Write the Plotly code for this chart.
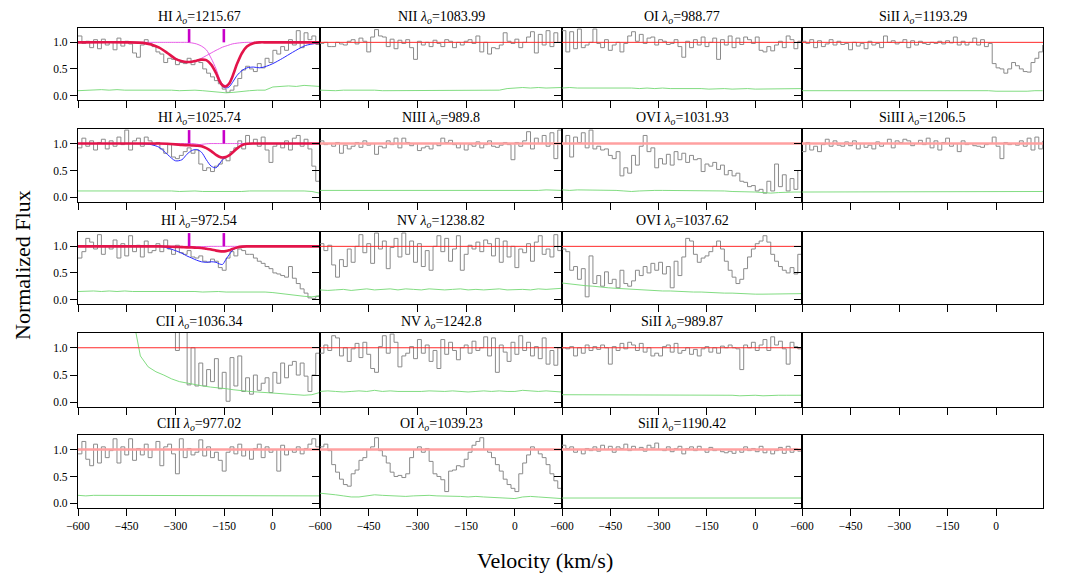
import plotly.graph_objects as go

# ---------------- data ----------------
VEL = list(range(-600, 145, 12))          # flux pixel grid (km/s)
ERR_VEL = list(range(-600, 145, 24))      # error-spectrum grid (km/s)
MODEL_VEL = [-600, -450, -400, -375, -350, -325, -300, -280, -265, -250,
             -235, -220, -205, -190, -175, -165, -155, -145, -135, -125,
             -110, -95, -80, -60, -40, -20, 0, 30, 60, 100, 145]
COMP_VEL = [-258, -151]
CONTINUUM = 1.0
X_TICKS = [-600, -450, -300, -150, 0]
X_TICK_LABELS = ["\u2212600", "\u2212450", "\u2212300", "\u2212150", "0"]
Y_TICKS = [0.0, 0.5, 1.0]
Y_TICK_LABELS = ["0.0", "0.5", "1.0"]

F_HI_1215 = [1.12, 0.98, 1.02, 0.90, 1.05, 0.88, 1.06, 0.95, 1.00,
             0.86, 1.08, 0.93, 1.02, 0.97, 0.80, 0.72, 0.95, 1.05,
             0.98, 0.92, 0.82, 0.78, 0.62, 0.70, 0.68, 0.58, 0.62,
             0.60, 0.70, 0.58, 0.66, 0.62, 0.50, 0.42, 0.35, 0.28,
             0.22, 0.12, 0.06, 0.10, 0.18, 0.32, 0.48, 0.55, 0.50,
             0.45, 0.60, 0.52, 0.70, 0.62, 0.85, 0.78, 0.92, 0.85,
             1.05, 0.95, 1.22, 0.90, 1.18, 1.05, 1.12, 0.96, 1.02]
F_NII_1084 = [0.98, 1.00, 0.92, 0.92, 1.00, 0.97, 0.95, 1.02, 1.05,
              0.97, 1.08, 1.02, 0.82, 1.10, 1.24, 1.12, 1.10, 0.92,
              1.06, 0.88, 1.04, 0.98, 1.05, 0.90, 0.68, 1.02, 0.95,
              1.00, 0.92, 1.04, 0.98, 0.92, 1.05, 1.02, 0.90, 1.00,
              0.95, 1.02, 1.05, 0.98, 1.12, 0.82, 1.00, 0.78, 0.90,
              0.88, 0.95, 1.18, 1.02, 0.98, 1.06, 0.90, 1.00, 1.10,
              1.20, 0.80, 1.15, 0.95, 1.22, 0.92, 1.18, 1.00, 1.05]
F_OI_989 = [1.22, 0.82, 1.20, 0.88, 1.25, 0.90, 0.95, 1.00, 1.25,
            0.98, 0.90, 1.05, 0.85, 0.95, 1.00, 0.82, 0.98, 1.12,
            1.20, 1.02, 1.15, 0.98, 1.08, 1.10, 0.95, 1.05, 1.02,
            0.96, 0.98, 1.05, 0.92, 0.72, 1.02, 0.90, 1.05, 0.95,
            1.10, 0.92, 1.00, 1.08, 0.68, 1.05, 0.95, 1.12, 0.90,
            1.08, 0.96, 1.10, 1.05, 0.98, 1.10, 0.85, 0.82, 0.92,
            0.84, 0.95, 1.02, 0.90, 1.12, 1.05, 0.88, 1.02, 0.96]
F_SiII_1193 = [1.02, 0.98, 1.05, 0.90, 1.03, 0.92, 0.97, 1.05, 0.95,
               1.02, 0.96, 0.98, 0.86, 1.00, 0.93, 0.98, 0.88, 1.02,
               0.95, 0.98, 0.90, 1.12, 1.00, 1.03, 0.97, 1.00, 1.05,
               0.90, 1.03, 0.95, 1.02, 0.98, 0.96, 1.00, 0.98, 1.02,
               0.97, 1.03, 0.99, 1.10, 0.95, 1.02, 0.95, 1.00, 1.08,
               0.95, 1.05, 0.92, 0.98, 0.60, 0.52, 0.50, 0.42, 0.50,
               0.62, 0.56, 0.50, 0.45, 0.44, 0.62, 0.70, 0.82, 0.95]
F_HI_1026 = [0.92, 1.10, 0.95, 1.05, 0.88, 1.02, 1.08, 0.90, 1.05,
             0.95, 1.12, 0.98, 1.25, 0.88, 1.05, 1.10, 0.95, 1.12,
             1.05, 0.98, 1.02, 0.90, 0.82, 0.98, 0.75, 0.72, 0.78,
             0.85, 0.92, 0.82, 0.88, 0.62, 0.50, 0.55, 0.48, 0.58,
             0.62, 0.72, 0.68, 0.85, 0.92, 1.05, 0.90, 1.15, 1.00,
             1.08, 0.95, 1.12, 0.88, 0.65, 0.95, 1.00, 0.92, 1.05,
             0.88, 1.10, 1.15, 0.95, 1.08, 0.90, 0.58, 0.30, 0.25]
F_NIII_990 = [1.05, 0.98, 1.00, 0.95, 1.02, 0.82, 0.97, 0.90, 0.95,
              1.02, 0.93, 1.05, 0.97, 1.00, 0.80, 0.95, 0.92, 1.05,
              0.98, 1.10, 0.92, 1.10, 1.02, 0.96, 1.00, 0.87, 0.92,
              0.95, 0.90, 1.00, 0.96, 1.10, 1.02, 1.06, 0.98, 0.92,
              1.00, 0.88, 0.98, 0.95, 1.03, 0.92, 0.98, 1.05, 0.95,
              0.93, 0.97, 1.02, 0.98, 0.70, 1.02, 0.95, 1.05, 1.22,
              0.90, 1.10, 1.00, 1.15, 0.95, 1.20, 0.72, 1.25, 1.05]
F_OVI_1032 = [1.00, 1.15, 0.75, 1.12, 1.02, 1.20, 0.92, 1.25, 0.90,
              0.95, 0.88, 0.90, 0.78, 0.72, 0.85, 0.40, 0.55, 0.45,
              0.78, 0.60, 0.95, 1.15, 0.85, 0.92, 0.55, 0.72, 0.62,
              0.80, 0.60, 0.85, 0.70, 0.82, 0.65, 0.78, 0.70, 0.72,
              0.48, 0.62, 0.58, 0.65, 0.52, 0.60, 0.42, 0.50, 0.40,
              0.45, 0.30, 0.28, 0.20, 0.22, 0.12, 0.15, 0.08, 0.30,
              0.12, 0.62, 0.20, 0.42, 0.12, 0.35, 0.15, 0.50, 0.20]
F_SiIII_1206 = [0.85, 1.02, 0.88, 0.95, 0.85, 0.98, 1.08, 0.95, 1.05,
                0.97, 0.95, 1.03, 0.96, 1.05, 0.90, 1.00, 0.93, 0.97,
                0.90, 1.03, 0.95, 1.00, 1.08, 0.92, 1.05, 1.02, 1.08,
                1.05, 0.96, 1.00, 1.06, 0.98, 1.10, 0.92, 1.05, 0.88,
                1.02, 1.10, 0.95, 1.00, 0.85, 1.05, 0.98, 1.00, 0.96,
                0.95, 0.93, 0.98, 1.00, 1.12, 0.95, 0.72, 1.02, 0.98,
                1.00, 0.97, 1.05, 0.95, 1.10, 0.88, 1.12, 0.90, 1.05]
F_HI_973 = [0.78, 0.90, 1.15, 1.08, 0.95, 1.22, 0.85, 1.00, 0.95,
            1.12, 0.78, 1.05, 0.82, 1.20, 0.90, 1.02, 0.80, 1.10,
            0.88, 0.92, 1.05, 0.90, 1.12, 0.95, 0.85, 1.02, 0.88,
            0.85, 0.92, 0.80, 0.78, 0.82, 0.72, 0.70, 0.76, 0.72,
            0.60, 0.55, 0.78, 0.90, 0.82, 0.95, 0.92, 0.85, 0.85,
            0.78, 0.72, 0.68, 0.62, 0.58, 0.50, 0.48, 0.45, 0.42,
            0.62, 0.40, 0.30, 0.20, 0.12, 0.03, 0.02, 0.06, 0.10]
F_NV_1239 = [1.05, 0.92, 1.02, 0.65, 0.42, 0.75, 0.62, 0.95, 0.70,
             1.00, 1.22, 0.88, 1.05, 0.68, 1.25, 0.95, 1.10, 0.58,
             0.98, 1.15, 0.80, 1.25, 0.85, 1.10, 0.70, 1.05, 0.62,
             0.92, 0.55, 1.00, 1.20, 0.90, 1.15, 0.72, 0.95, 1.20,
             0.55, 0.85, 1.02, 0.95, 1.08, 0.90, 1.12, 1.05, 0.82,
             1.15, 0.70, 1.10, 0.80, 1.00, 0.60, 0.95, 0.88, 1.05,
             0.72, 1.08, 1.20, 0.85, 0.95, 0.80, 1.22, 0.92, 1.18]
F_OVI_1038 = [0.95, 0.90, 0.55, 0.62, 0.38, 0.58, 0.05, 0.82, 0.30,
              0.45, 0.25, 0.52, 0.30, 0.38, 0.22, 0.55, 0.30, 0.25,
              0.35, 0.55, 0.45, 0.62, 0.50, 0.68, 0.55, 0.70, 0.48,
              0.62, 0.22, 0.72, 0.45, 0.80, 1.15, 1.10, 0.85, 0.70,
              0.78, 0.82, 0.90, 1.00, 1.10, 0.95, 0.72, 0.55, 0.42,
              0.30, 0.38, 0.58, 0.80, 0.95, 1.05, 1.10, 1.20, 1.08,
              0.85, 0.72, 0.62, 0.55, 0.50, 0.60, 0.48, 0.85, 0.98]
F_CII_1036 = [None, None, None, None, None, None, None, None, None,
              None, None, None, None, None, None, None, None, None,
              None, None, None, None, None, None, 1.40, 0.95, 1.35,
              1.30, 0.32, 1.00, 0.30, 0.72, 0.30, 0.60, 0.38, 0.80,
              0.25, 0.55, 0.02, 0.82, 0.30, 0.85, 0.20, 0.45, 0.15,
              0.50, 0.22, 0.35, 0.45, 0.18, 0.55, 0.35, 0.72, 0.45,
              0.68, 0.75, 0.50, 0.72, 0.48, 0.20, 0.50, 0.90, 0.55]
F_NV_1243 = [0.90, 1.05, 0.95, 1.22, 1.18, 0.85, 1.00, 0.75, 0.98,
             1.08, 0.82, 1.10, 0.88, 0.62, 0.55, 1.02, 1.22, 0.90,
             1.25, 1.10, 0.65, 0.85, 0.90, 1.02, 0.80, 1.15, 0.90,
             1.05, 0.75, 0.95, 0.62, 1.15, 0.88, 1.10, 0.95, 0.78,
             1.00, 1.05, 0.90, 1.12, 0.95, 1.00, 1.20, 0.85, 1.18,
             0.55, 1.05, 0.92, 0.75, 1.10, 0.88, 1.22, 0.95, 1.10,
             0.85, 1.02, 0.80, 1.18, 0.70, 0.95, 0.68, 1.00, 0.85]
F_SiII_990 = [1.00, 0.98, 1.02, 0.85, 1.00, 0.90, 1.05, 0.95, 1.02,
              0.97, 1.05, 1.00, 0.70, 1.02, 0.95, 1.08, 0.98, 1.10,
              1.05, 0.95, 1.08, 0.92, 1.00, 0.85, 0.90, 0.85, 1.02,
              1.05, 0.92, 1.08, 0.90, 0.95, 1.00, 0.88, 0.97, 0.85,
              0.98, 1.02, 0.92, 1.00, 0.90, 1.03, 1.00, 1.05, 1.00,
              0.98, 0.60, 1.05, 1.00, 1.10, 0.95, 1.05, 1.15, 0.95,
              1.20, 1.05, 1.12, 0.98, 0.70, 1.10, 1.02, 0.98, 1.00]
F_CIII_977 = [0.92, 1.15, 0.82, 0.70, 1.10, 0.75, 1.05, 0.85, 0.98,
              1.20, 0.75, 1.05, 0.90, 1.20, 0.80, 1.02, 0.90, 1.10,
              0.85, 1.00, 1.15, 0.70, 1.05, 1.10, 0.92, 0.55, 1.20,
              0.85, 1.02, 0.90, 0.95, 1.18, 0.88, 1.05, 0.85, 0.95,
              0.80, 0.60, 0.95, 1.05, 0.92, 1.10, 0.88, 1.00, 0.82,
              1.02, 1.10, 0.85, 1.05, 0.95, 1.00, 0.60, 1.08, 0.90,
              1.00, 0.95, 1.05, 0.92, 1.02, 1.10, 1.20, 1.05, 0.98]
F_OI_1039 = [1.05, 1.10, 0.98, 0.72, 0.58, 0.45, 0.35, 0.32, 0.55,
             0.62, 0.80, 0.85, 1.00, 1.05, 1.22, 0.98, 0.88, 0.75,
             0.58, 0.50, 0.52, 0.48, 0.55, 0.85, 1.00, 1.05, 0.95,
             1.02, 0.78, 0.55, 0.50, 0.44, 0.22, 0.60, 0.62, 0.70,
             0.68, 0.82, 0.95, 1.08, 1.15, 1.22, 1.00, 0.95, 0.85,
             0.72, 0.60, 0.45, 0.35, 0.28, 0.22, 0.55, 0.75, 0.90,
             1.05, 1.00, 0.92, 0.85, 0.72, 0.55, 0.42, 0.28, 0.25]
F_SiII_1190 = [1.08, 1.02, 1.05, 0.95, 1.00, 0.92, 1.02, 0.98, 1.05,
               0.97, 1.08, 1.00, 1.06, 0.95, 1.05, 1.02, 1.10, 0.98,
               1.06, 1.00, 1.04, 0.97, 1.08, 1.03, 1.12, 1.00, 0.98,
               1.05, 0.96, 1.02, 1.06, 0.92, 1.02, 1.05, 0.98, 1.06,
               1.00, 0.95, 1.04, 0.98, 1.00, 0.96, 0.94, 0.97, 0.93,
               1.00, 0.95, 1.05, 0.98, 1.02, 0.96, 1.06, 0.94, 1.00,
               0.92, 0.98, 1.04, 0.93, 1.06, 0.95, 1.02, 0.97, 1.00]

E_HI_1215 = [0.09, 0.10, 0.10, 0.11, 0.10, 0.11, 0.10, 0.10,
             0.10, 0.10, 0.11, 0.10, 0.10, 0.09, 0.10, 0.10,
             0.09, 0.08, 0.07, 0.05, 0.06, 0.08, 0.09, 0.10,
             0.10, 0.16, 0.17, 0.18, 0.17, 0.19, 0.18, 0.17]
E_NII_1084 = [0.10, 0.09, 0.09, 0.10, 0.10, 0.11, 0.10, 0.10,
              0.09, 0.09, 0.09, 0.09, 0.09, 0.09, 0.09, 0.09,
              0.09, 0.09, 0.09, 0.09, 0.09, 0.09, 0.09, 0.10,
              0.13, 0.14, 0.15, 0.14, 0.15, 0.14, 0.14, 0.15]
E_OI_989 = [0.14, 0.15, 0.14, 0.14, 0.15, 0.14, 0.14, 0.15,
            0.14, 0.14, 0.13, 0.14, 0.13, 0.14, 0.13, 0.13,
            0.14, 0.13, 0.13, 0.12, 0.13, 0.13, 0.12, 0.13,
            0.13, 0.12, 0.12, 0.13, 0.12, 0.12, 0.12, 0.13]
E_SiII_1193 = [0.09, 0.09, 0.10, 0.09, 0.09, 0.09, 0.10, 0.09,
               0.09, 0.09, 0.09, 0.09, 0.09, 0.09, 0.09, 0.09,
               0.09, 0.09, 0.09, 0.09, 0.09, 0.09, 0.09, 0.09,
               0.09, 0.08, 0.08, 0.07, 0.07, 0.08, 0.09, 0.09]
E_HI_1026 = [0.12, 0.12, 0.13, 0.12, 0.12, 0.13, 0.12, 0.12,
             0.12, 0.13, 0.12, 0.12, 0.12, 0.11, 0.12, 0.12,
             0.11, 0.11, 0.10, 0.10, 0.11, 0.11, 0.12, 0.12,
             0.12, 0.12, 0.12, 0.13, 0.12, 0.12, 0.11, 0.08]
E_NIII_990 = [0.13, 0.13, 0.12, 0.13, 0.13, 0.13, 0.12, 0.13,
              0.13, 0.13, 0.13, 0.12, 0.13, 0.13, 0.13, 0.13,
              0.12, 0.13, 0.13, 0.13, 0.12, 0.13, 0.13, 0.13,
              0.13, 0.13, 0.13, 0.13, 0.13, 0.14, 0.13, 0.13]
E_OVI_1032 = [0.14, 0.13, 0.14, 0.14, 0.13, 0.13, 0.14, 0.13,
              0.12, 0.11, 0.12, 0.13, 0.13, 0.13, 0.13, 0.13,
              0.13, 0.12, 0.13, 0.12, 0.12, 0.12, 0.11, 0.11,
              0.10, 0.10, 0.09, 0.08, 0.09, 0.10, 0.10, 0.10]
E_SiIII_1206 = [0.10, 0.10, 0.10, 0.10, 0.10, 0.10, 0.10, 0.11,
                0.10, 0.10, 0.10, 0.10, 0.10, 0.10, 0.10, 0.11,
                0.10, 0.10, 0.10, 0.10, 0.10, 0.10, 0.10, 0.10,
                0.10, 0.11, 0.10, 0.10, 0.10, 0.10, 0.11, 0.11]
E_HI_973 = [0.15, 0.16, 0.16, 0.15, 0.16, 0.15, 0.16, 0.15,
            0.15, 0.16, 0.15, 0.15, 0.16, 0.15, 0.15, 0.15,
            0.14, 0.15, 0.15, 0.14, 0.14, 0.15, 0.15, 0.15,
            0.14, 0.13, 0.11, 0.09, 0.07, 0.06, 0.05, 0.07]
E_NV_1239 = [0.18, 0.17, 0.18, 0.19, 0.17, 0.19, 0.20, 0.18,
             0.19, 0.20, 0.18, 0.20, 0.19, 0.18, 0.20, 0.19,
             0.18, 0.19, 0.20, 0.18, 0.19, 0.18, 0.19, 0.20,
             0.18, 0.19, 0.19, 0.18, 0.20, 0.19, 0.20, 0.21]
E_OVI_1038 = [0.31, 0.29, 0.27, 0.26, 0.25, 0.23, 0.22, 0.21,
              0.20, 0.20, 0.19, 0.18, 0.17, 0.16, 0.16, 0.15,
              0.14, 0.14, 0.14, 0.13, 0.13, 0.12, 0.12, 0.11,
              0.11, 0.10, 0.10, 0.10, 0.10, 0.10, 0.10, 0.11]
E_CII_1036 = [None, None, None, None, None, None, None, 1.60,
              0.85, 0.65, 0.56, 0.50, 0.43, 0.38, 0.35, 0.32,
              0.30, 0.28, 0.27, 0.25, 0.23, 0.21, 0.20, 0.19,
              0.18, 0.18, 0.17, 0.16, 0.15, 0.13, 0.14, 0.18]
E_NV_1243 = [0.20, 0.21, 0.20, 0.19, 0.20, 0.21, 0.20, 0.22,
             0.20, 0.21, 0.20, 0.20, 0.19, 0.20, 0.21, 0.20,
             0.20, 0.21, 0.20, 0.19, 0.20, 0.21, 0.20, 0.21,
             0.20, 0.20, 0.22, 0.21, 0.20, 0.21, 0.20, 0.19]
E_SiII_990 = [0.14, 0.14, 0.14, 0.13, 0.14, 0.14, 0.13, 0.14,
              0.14, 0.13, 0.14, 0.13, 0.14, 0.13, 0.13, 0.14,
              0.13, 0.13, 0.13, 0.14, 0.13, 0.13, 0.13, 0.12,
              0.13, 0.13, 0.12, 0.13, 0.13, 0.13, 0.13, 0.13]
E_CIII_977 = [0.15, 0.14, 0.15, 0.15, 0.14, 0.15, 0.14, 0.15,
              0.15, 0.14, 0.14, 0.15, 0.14, 0.15, 0.14, 0.14,
              0.15, 0.14, 0.14, 0.15, 0.14, 0.14, 0.14, 0.15,
              0.14, 0.14, 0.14, 0.15, 0.14, 0.14, 0.15, 0.14]
E_OI_1039 = [0.19, 0.18, 0.16, 0.14, 0.12, 0.12, 0.14, 0.16,
             0.15, 0.14, 0.13, 0.13, 0.14, 0.15, 0.15, 0.14,
             0.14, 0.13, 0.13, 0.12, 0.13, 0.12, 0.11, 0.10,
             0.09, 0.09, 0.12, 0.13, 0.12, 0.11, 0.10, 0.09]
E_SiII_1190 = [0.10, 0.10, 0.11, 0.10, 0.10, 0.10, 0.10, 0.10,
               0.10, 0.10, 0.11, 0.10, 0.10, 0.10, 0.10, 0.10,
               0.10, 0.10, 0.10, 0.10, 0.10, 0.11, 0.10, 0.10,
               0.10, 0.10, 0.10, 0.10, 0.10, 0.10, 0.10, 0.10]

# Voigt-profile fit models (HI panels)
M_HI_1215_TOTAL = [1, 1, 0.99, 0.96, 0.9, 0.8, 0.69, 0.645, 0.63, 0.635,
                   0.655, 0.675, 0.665, 0.58, 0.42, 0.28, 0.19, 0.17, 0.22, 0.35,
                   0.6, 0.8, 0.92, 0.985, 1, 1, 1, 1, 1, 1, 1]
M_HI_1215_ALL = [1, 1, 0.99, 0.96, 0.9, 0.8, 0.69, 0.645, 0.63, 0.635,
                 0.655, 0.675, 0.665, 0.58, 0.42, 0.26, 0.17, 0.14, 0.16, 0.24,
                 0.38, 0.47, 0.52, 0.535, 0.52, 0.55, 0.6, 0.7, 0.81, 0.94, 0.99]
M_HI_1215_C1 = [1, 1, 0.99, 0.96, 0.9, 0.8, 0.7, 0.65, 0.635, 0.64,
                0.66, 0.7, 0.75, 0.8, 0.85, 0.88, 0.91, 0.93, 0.95, 0.97,
                0.985, 0.995, 1, 1, 1, 1, 1, 1, 1, 1, 1]
M_HI_1215_C2 = [1, 1, 1, 1, 1, 1, 1, 1, 1, 0.99,
                0.97, 0.93, 0.86, 0.7, 0.5, 0.33, 0.21, 0.19, 0.24, 0.36,
                0.6, 0.8, 0.92, 0.985, 1, 1, 1, 1, 1, 1, 1]
M_HI_1026_TOTAL = [1, 1, 1, 1, 1, 0.995, 0.985, 0.975, 0.97, 0.965,
                   0.96, 0.95, 0.915, 0.86, 0.79, 0.755, 0.74, 0.75, 0.78, 0.83,
                   0.91, 0.97, 0.995, 1, 1, 1, 1, 1, 1, 1, 1]
M_HI_1026_ALL = [1, 1, 0.995, 0.98, 0.93, 0.8, 0.68, 0.7, 0.8, 0.87,
                 0.89, 0.84, 0.7, 0.58, 0.55, 0.62, 0.7, 0.745, 0.78, 0.83,
                 0.91, 0.97, 0.995, 1, 1, 1, 1, 1, 1, 1, 1]
M_HI_1026_C1 = [1, 1, 1, 1, 1, 0.995, 0.985, 0.975, 0.97, 0.97,
                0.975, 0.985, 0.995, 1, 1, 1, 1, 1, 1, 1,
                1, 1, 1, 1, 1, 1, 1, 1, 1, 1, 1]
M_HI_1026_C2 = [1, 1, 1, 1, 1, 1, 1, 1, 1, 1,
                0.99, 0.97, 0.92, 0.86, 0.79, 0.76, 0.745, 0.75, 0.78, 0.83,
                0.91, 0.97, 0.995, 1, 1, 1, 1, 1, 1, 1, 1]
M_HI_973_TOTAL = [1, 1, 1, 1, 1, 0.995, 0.99, 0.985, 0.98, 0.98,
                  0.975, 0.97, 0.955, 0.94, 0.92, 0.91, 0.905, 0.91, 0.925, 0.95,
                  0.98, 0.995, 1, 1, 1, 1, 1, 1, 1, 1, 1]
M_HI_973_ALL = [1, 1, 1, 1, 1, 0.97, 0.92, 0.87, 0.82, 0.78,
                0.74, 0.71, 0.7, 0.71, 0.7, 0.67, 0.66, 0.75, 0.84, 0.92,
                0.98, 1, 1, 1, 1, 1, 1, 1, 1, 1, 1]
M_HI_973_C1 = [1, 1, 1, 1, 1, 0.998, 0.995, 0.99, 0.988, 0.988,
               0.99, 0.995, 0.998, 1, 1, 1, 1, 1, 1, 1,
               1, 1, 1, 1, 1, 1, 1, 1, 1, 1, 1]
M_HI_973_C2 = [1, 1, 1, 1, 1, 1, 1, 1, 1, 0.998,
               0.99, 0.98, 0.965, 0.945, 0.925, 0.912, 0.905, 0.91, 0.925, 0.95,
               0.98, 0.995, 1, 1, 1, 1, 1, 1, 1, 1, 1]

# ---------------- panels ----------------
# (row, col, ion, rest wavelength, flux, error, continuum style, model)
PANELS = [
    (0, 0, "HI", "1215.67", F_HI_1215, E_HI_1215, "model",
     (M_HI_1215_TOTAL, M_HI_1215_ALL, M_HI_1215_C1, M_HI_1215_C2)),
    (0, 1, "NII", "1083.99", F_NII_1084, E_NII_1084, "thin", None),
    (0, 2, "OI", "988.77", F_OI_989, E_OI_989, "thin", None),
    (0, 3, "SiII", "1193.29", F_SiII_1193, E_SiII_1193, "thin", None),
    (1, 0, "HI", "1025.74", F_HI_1026, E_HI_1026, "model",
     (M_HI_1026_TOTAL, M_HI_1026_ALL, M_HI_1026_C1, M_HI_1026_C2)),
    (1, 1, "NIII", "989.8", F_NIII_990, E_NIII_990, "pale", None),
    (1, 2, "OVI", "1031.93", F_OVI_1032, E_OVI_1032, "pale", None),
    (1, 3, "SiIII", "1206.5", F_SiIII_1206, E_SiIII_1206, "pale", None),
    (2, 0, "HI", "972.54", F_HI_973, E_HI_973, "model",
     (M_HI_973_TOTAL, M_HI_973_ALL, M_HI_973_C1, M_HI_973_C2)),
    (2, 1, "NV", "1238.82", F_NV_1239, E_NV_1239, "thin", None),
    (2, 2, "OVI", "1037.62", F_OVI_1038, E_OVI_1038, "thin", None),
    (3, 0, "CII", "1036.34", F_CII_1036, E_CII_1036, "thin", None),
    (3, 1, "NV", "1242.8", F_NV_1243, E_NV_1243, "thin", None),
    (3, 2, "SiII", "989.87", F_SiII_990, E_SiII_990, "thin", None),
    (4, 0, "CIII", "977.02", F_CIII_977, E_CIII_977, "pale", None),
    (4, 1, "OI", "1039.23", F_OI_1039, E_OI_1039, "pale", None),
    (4, 2, "SiII", "1190.42", F_SiII_1190, E_SiII_1190, "pale", None),
]
EMPTY_PANELS = [(2, 3), (3, 3), (4, 3)]

for p in PANELS:
    assert len(p[4]) == len(VEL), p[2] + p[3]
    assert len(p[5]) == len(ERR_VEL), p[2] + p[3]
    if p[7]:
        for m in p[7]:
            assert len(m) == len(MODEL_VEL), p[2] + p[3]

# ---------------- layout geometry (pixels) ----------------
W, H = 1065, 587
COL_PX = [(78, 320), (320, 562), (562, 802), (802, 1043)]
ROW_PX = [(28, 100), (129, 202), (232, 304), (333, 407), (435, 508)]
X_RANGE = [-600, 145]
Y_RANGE = [-0.085, 1.27]
TICK_TOP = 1.25
FONT = "Liberation Serif"

GRAY = "#8a8a8a"
GREEN = "#74d874"


def ax_id(r, c):
    return r * 4 + c + 1


def refs(r, c):
    k = ax_id(r, c)
    return ("x" if k == 1 else f"x{k}"), ("y" if k == 1 else f"y{k}")


fig = go.Figure()

for (r, c, ion, lam, flux, err, style, model) in PANELS:
    xa, ya = refs(r, c)
    fig.add_trace(go.Scatter(x=VEL, y=flux, mode="lines", line_shape="hv",
                             line=dict(color=GRAY, width=1), xaxis=xa, yaxis=ya,
                             connectgaps=False, hoverinfo="skip"))
    fig.add_trace(go.Scatter(x=ERR_VEL, y=err, mode="lines",
                             line=dict(color=GREEN, width=0.9), xaxis=xa, yaxis=ya,
                             connectgaps=False, hoverinfo="skip"))
    if style == "thin":
        fig.add_trace(go.Scatter(x=[VEL[0], X_RANGE[1]], y=[CONTINUUM, CONTINUUM],
                                 mode="lines", line=dict(color="#ff2a2a", width=1),
                                 xaxis=xa, yaxis=ya, hoverinfo="skip"))
    elif style == "pale":
        fig.add_trace(go.Scatter(x=[VEL[0], X_RANGE[1]], y=[CONTINUUM, CONTINUUM],
                                 mode="lines", line=dict(color="#ffa0a0", width=2.4),
                                 xaxis=xa, yaxis=ya, hoverinfo="skip"))
    elif style == "model":
        total, allc, c1, c2 = model
        for comp in (c1, c2):
            fig.add_trace(go.Scatter(x=MODEL_VEL, y=comp, mode="lines",
                                     line=dict(color="#e44ae4", width=0.9,
                                               shape="spline", smoothing=0.8),
                                     xaxis=xa, yaxis=ya, hoverinfo="skip"))
        fig.add_trace(go.Scatter(x=MODEL_VEL, y=allc, mode="lines",
                                 line=dict(color="#2b2bff", width=1,
                                           shape="spline", smoothing=0.8),
                                 xaxis=xa, yaxis=ya, hoverinfo="skip"))
        fig.add_trace(go.Scatter(x=MODEL_VEL, y=total, mode="lines",
                                 line=dict(color="#e3144a", width=2.6,
                                           shape="spline", smoothing=0.8),
                                 xaxis=xa, yaxis=ya, hoverinfo="skip"))
        tx, ty = [], []
        for v in COMP_VEL:
            tx += [v, v, None]
            ty += [CONTINUUM, TICK_TOP, None]
        fig.add_trace(go.Scatter(x=tx, y=ty, mode="lines",
                                 line=dict(color="#c800c8", width=2.6),
                                 xaxis=xa, yaxis=ya, hoverinfo="skip"))

# empty panels still need a subplot frame
for (r, c) in EMPTY_PANELS:
    xa, ya = refs(r, c)
    fig.add_trace(go.Scatter(x=[None], y=[None], mode="lines", xaxis=xa, yaxis=ya,
                             hoverinfo="skip", showlegend=False))

layout = dict(
    template="none",
    width=W, height=H, margin=dict(l=0, r=0, t=0, b=0, autoexpand=False),
    paper_bgcolor="white", plot_bgcolor="white", showlegend=False,
    font=dict(family=FONT, color="black", size=12),
)

axis_common = dict(
    ticks="outside", ticklen=7, tickwidth=1.2, tickcolor="black",
    showline=True, mirror=True, linecolor="black", linewidth=1.4,
    showgrid=False, zeroline=False, automargin=False,
    tickfont=dict(size=11.5, family=FONT, color="black"),
)

annotations = []
for r in range(5):
    for c in range(4):
        k = ax_id(r, c)
        sfx = "" if k == 1 else str(k)
        x0, x1 = COL_PX[c]
        y0, y1 = ROW_PX[r]
        layout["xaxis" + sfx] = dict(
            domain=[x0 / W, x1 / W], range=X_RANGE, anchor="y" + sfx,
            tickvals=X_TICKS, ticktext=X_TICK_LABELS, showticklabels=(r == 4),
            **axis_common)
        layout["yaxis" + sfx] = dict(
            domain=[1 - y1 / H, 1 - y0 / H], range=Y_RANGE, anchor="x" + sfx,
            tickvals=Y_TICKS, ticktext=Y_TICK_LABELS, showticklabels=(c == 0),
            **axis_common)

for (r, c, ion, lam, flux, err, style, model) in PANELS:
    k = ax_id(r, c)
    sfx = "" if k == 1 else str(k)
    annotations.append(dict(
        text=f"{ion} <i>\u03bb</i><sub><i>o</i></sub>={lam}",
        xref=f"x{sfx} domain", yref=f"y{sfx} domain", x=0.5, y=1,
        xanchor="center", yanchor="bottom", yshift=0, showarrow=False,
        font=dict(size=14, family=FONT, color="black"),
    ))

annotations.append(dict(text="Normalized Flux", xref="paper", yref="paper",
                        x=22 / W, y=1 - 265 / H, textangle=-90, showarrow=False,
                        xanchor="center", yanchor="middle",
                        font=dict(size=22, family=FONT, color="black")))
annotations.append(dict(text="Velocity (km/s)", xref="paper", yref="paper",
                        x=545 / W, y=1 - 560 / H, showarrow=False,
                        xanchor="center", yanchor="middle",
                        font=dict(size=22, family=FONT, color="black")))
layout["annotations"] = annotations

fig.update_layout(**layout)
fig.write_html("out.html")
